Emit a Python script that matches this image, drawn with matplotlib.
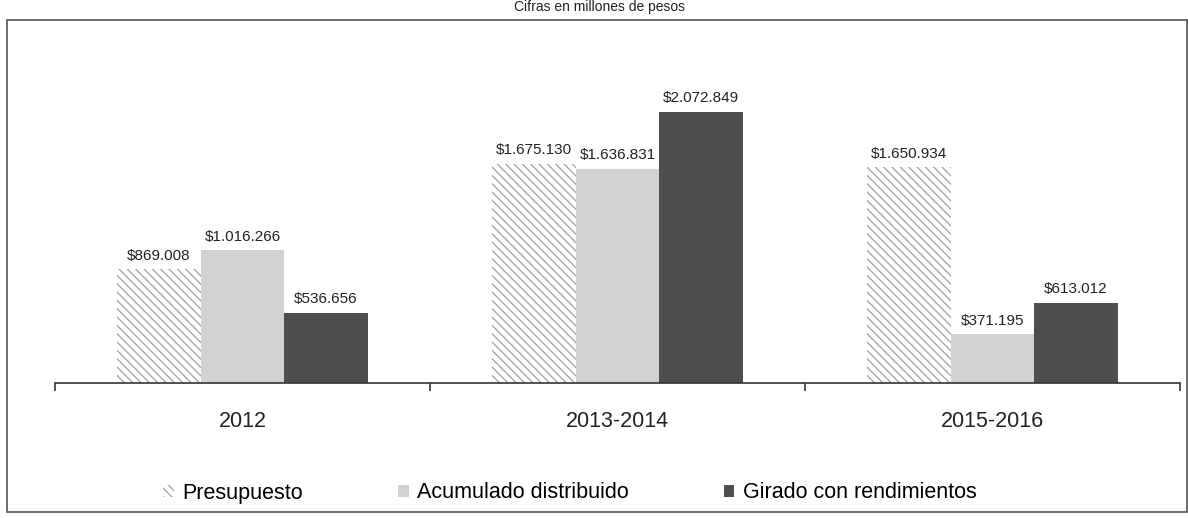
import numpy as np
import matplotlib.pyplot as plt
from matplotlib.patches import Rectangle

plt.rcParams['font.family'] = ['Liberation Sans', 'DejaVu Sans']
plt.rcParams['hatch.color'] = '#9a9a9a'
plt.rcParams['hatch.linewidth'] = 0.9

categorias = ['2012', '2013-2014', '2015-2016']
series = ['Presupuesto', 'Acumulado distribuido', 'Girado con rendimientos']
presupuesto = [869008, 1675130, 1650934]
acumulado = [1016266, 1636831, 371195]
girado = [536656, 2072849, 613012]
etiquetas = [
    ['$869.008', '$1.675.130', '$1.650.934'],
    ['$1.016.266', '$1.636.831', '$371.195'],
    ['$536.656', '$2.072.849', '$613.012'],
]

fig = plt.figure(figsize=(11.88, 5.18), dpi=100)
ax = fig.add_axes([55 / 1188, 1 - 383 / 518, 1125 / 1188, 323 / 518])

x = np.arange(len(categorias))
w = 0.223
estilos = [
    dict(facecolor='white', hatch='\\\\\\\\', edgecolor='#a0a0a0', linewidth=0),
    dict(facecolor='#d2d2d2', edgecolor='#d2d2d2', linewidth=0),
    dict(facecolor='#4e4e4e', edgecolor='#4e4e4e', linewidth=0),
]
for i, (vals, est) in enumerate(zip([presupuesto, acumulado, girado], estilos)):
    pos = x + (i - 1) * w
    bars = ax.bar(pos, vals, width=w, label=series[i], **est)
    for b, lab in zip(bars, etiquetas[i]):
        ax.text(b.get_x() + b.get_width() / 2, b.get_height() + 50000, lab,
                ha='center', va='bottom', fontsize=11, color='#222222')

ax.set_xlim(-0.5, 2.5)
ax.set_ylim(0, 2.47e6)
for s in ['top', 'right', 'left']:
    ax.spines[s].set_visible(False)
ax.spines['bottom'].set_color('#333333')
ax.spines['bottom'].set_linewidth(1.2)
ax.set_yticks([])
ax.set_xticks([-0.5, 0.5, 1.5, 2.5], minor=True)
ax.tick_params(axis='x', which='minor', length=6, color='#333333', width=1.2)
ax.set_xticks(x)
ax.set_xticklabels(categorias, fontsize=15.5, color='#222222')
ax.tick_params(axis='x', which='major', length=0, pad=20)

leg = fig.legend(loc='center', bbox_to_anchor=(570 / 1188, 1 - 493 / 518), ncol=3,
                 frameon=False, fontsize=15.5, handlelength=0.5, handleheight=0.5,
                 handletextpad=0.4, columnspacing=4.4)

fig.text(600 / 1188, 1.0, 'Cifras en millones de pesos', ha='center', va='top',
         fontsize=10, color='#222222')
fig.add_artist(Rectangle((7 / 1188, 1 - 512 / 518), 1180 / 1188, 492 / 518,
                         transform=fig.transFigure, fill=False,
                         edgecolor='#555555', linewidth=1.2))

fig.savefig('out.png', dpi=100)
